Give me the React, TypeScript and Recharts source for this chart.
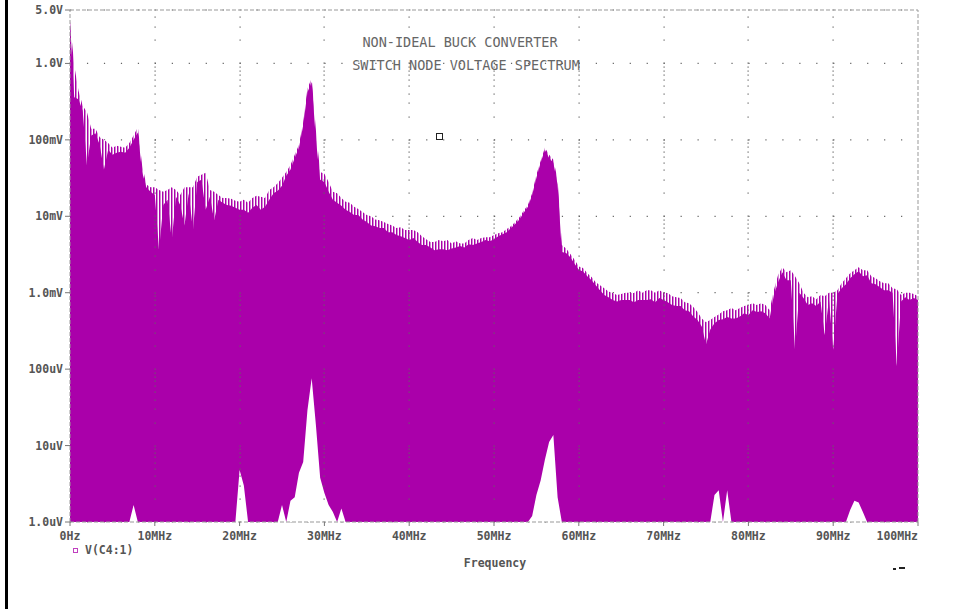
import {
  ComposedChart,
  Area,
  Scatter,
  XAxis,
  YAxis,
  CartesianGrid,
  ReferenceLine,
} from "recharts";

// spectrum sampled every 0.5 MHz, 0 .. 100 MHz (volts)
const STEP_MHZ = 0.5;

// upper edge of the harmonic comb
const peakV = [
  3.6, 0.94, 0.44, 0.28, 0.23, 0.14, 0.14, 0.108, 0.1, 0.091,
  0.079, 0.084, 0.081, 0.079, 0.091, 0.114, 0.146, 0.047, 0.026, 0.024,
  0.024, 0.022, 0.021, 0.022, 0.024, 0.022, 0.019, 0.024, 0.024, 0.024,
  0.033, 0.035, 0.037, 0.022, 0.021, 0.019, 0.0174, 0.0174, 0.0169, 0.016,
  0.0155, 0.0164, 0.015, 0.0174, 0.0185, 0.018, 0.0174, 0.022, 0.024, 0.027,
  0.032, 0.038, 0.047, 0.064, 0.086, 0.169, 0.47, 0.64, 0.133, 0.038,
  0.036, 0.028, 0.021, 0.02, 0.0174, 0.0155, 0.015, 0.0133, 0.0125, 0.0114,
  0.0104, 0.01, 0.0091, 0.0089, 0.0084, 0.0079, 0.0076, 0.007, 0.0072, 0.0066,
  0.0066, 0.0066, 0.0062, 0.0055, 0.005, 0.0046, 0.0046, 0.0049, 0.0047, 0.0049,
  0.0044, 0.0047, 0.0044, 0.0044, 0.0049, 0.0052, 0.0049, 0.0052, 0.0053, 0.0053,
  0.0057, 0.006, 0.0062, 0.0068, 0.0074, 0.0084, 0.0097, 0.0118, 0.0141, 0.02,
  0.035, 0.053, 0.079, 0.064, 0.055, 0.03, 0.0042, 0.0038, 0.0032, 0.0027,
  0.0022, 0.0021, 0.0018, 0.0016, 0.00137, 0.00125, 0.00114, 0.00104, 0.00099, 0.00093,
  0.00096, 0.001, 0.001, 0.00099, 0.00108, 0.001, 0.00108, 0.00108, 0.001, 0.00108,
  0.001, 0.00099, 0.0009, 0.00087, 0.00085, 0.00075, 0.00073, 0.00065, 0.00056, 0.00046,
  0.00041, 0.00044, 0.00048, 0.00052, 0.00057, 0.00059, 0.00063, 0.00059, 0.00063, 0.00067,
  0.00069, 0.00073, 0.00069, 0.00073, 0.00069, 0.00059, 0.00108, 0.0017, 0.00215, 0.00185,
  0.00197, 0.00164, 0.00133, 0.001, 0.00087, 0.0009, 0.00082, 0.00093, 0.0009, 0.001,
  0.001, 0.00108, 0.00133, 0.00155, 0.0018, 0.00197, 0.00215, 0.00197, 0.00197, 0.00164,
  0.00155, 0.00141, 0.00133, 0.00133, 0.00114, 0.00111, 0.00093, 0.001, 0.001, 0.00096,
  0.0009,
];

// solid body under the comb
const floorV = [
  3.6, 0.36, 0.34, 0.24, 0.047, 0.114, 0.122, 0.086, 0.041, 0.074,
  0.064, 0.068, 0.07, 0.068, 0.079, 0.1, 0.125, 0.038, 0.024, 0.021,
  0.019, 0.0036, 0.0141, 0.0164, 0.0049, 0.018, 0.0141, 0.0076, 0.02, 0.0066,
  0.028, 0.03, 0.0122, 0.018, 0.0089, 0.0164, 0.015, 0.0141, 0.0137, 0.0129,
  0.0122, 0.0122, 0.0111, 0.0129, 0.0141, 0.0122, 0.0133, 0.0164, 0.02, 0.0215,
  0.025, 0.034, 0.041, 0.058, 0.079, 0.155, 0.42, 0.57, 0.1, 0.03,
  0.028, 0.021, 0.0164, 0.015, 0.0137, 0.0122, 0.0114, 0.0104, 0.0104, 0.0091,
  0.0084, 0.0076, 0.0074, 0.007, 0.007, 0.0062, 0.0062, 0.0057, 0.0055, 0.0052,
  0.0049, 0.0052, 0.0046, 0.0042, 0.0042, 0.0039, 0.0036, 0.0037, 0.0037, 0.0036,
  0.0038, 0.0039, 0.0041, 0.0039, 0.0043, 0.0042, 0.0044, 0.0046, 0.0049, 0.0047,
  0.005, 0.0055, 0.0058, 0.0062, 0.007, 0.0079, 0.0091, 0.0111, 0.0133, 0.019,
  0.032, 0.05, 0.074, 0.058, 0.05, 0.026, 0.0034, 0.0033, 0.0029, 0.0024,
  0.002, 0.0019, 0.00164, 0.00146, 0.00125, 0.00108, 0.00093, 0.00087, 0.0008, 0.00077,
  0.0008, 0.0008, 0.0008, 0.00075, 0.0008, 0.0008, 0.0008, 0.00082, 0.00075, 0.00085,
  0.0008, 0.00075, 0.00069, 0.00067, 0.00067, 0.00059, 0.00057, 0.00049, 0.00044, 0.00036,
  0.00021, 0.00033, 0.0004, 0.00044, 0.00045, 0.00048, 0.00046, 0.00046, 0.00049, 0.00054,
  0.00051, 0.00059, 0.00056, 0.00057, 0.00054, 0.00046, 0.00093, 0.00137, 0.00185, 0.00146,
  0.00146, 0.00018, 0.001, 0.00085, 0.00069, 0.00073, 0.00067, 0.00077, 0.00028, 0.00082,
  0.00018, 0.00096, 0.00114, 0.00129, 0.00155, 0.00174, 0.00191, 0.00164, 0.00169, 0.00133,
  0.00129, 0.00118, 0.00108, 0.00108, 0.001, 0.00011, 0.00077, 0.00087, 0.0008, 0.00085,
  0.0008,
];

// empty bins near the noise floor: [MHz, volts]
const gapV: Array<[number, number]> = [
  [7.5, 1.67e-6], [20, 4.8e-6], [20.5, 3.0e-6], [25, 1.67e-6], [26, 1.9e-6],
  [26.5, 2.1e-6], [27, 4.4e-6], [27.5, 6.1e-6], [28, 2.9e-5], [28.5, 7.6e-5],
  [29, 1.85e-5], [29.5, 3.8e-6], [30, 2.4e-6], [30.5, 1.67e-6], [31, 1.35e-6],
  [32, 1.5e-6], [54.5, 1.2e-6], [55, 2.25e-6], [55.5, 3.5e-6], [56, 6.5e-6],
  [56.5, 1.11e-5], [57, 1.37e-5], [57.5, 2.1e-6], [76, 2.25e-6], [76.5, 2.6e-6],
  [77.5, 2.6e-6], [92, 1.44e-6], [92.5, 1.9e-6], [93, 1.8e-6], [93.5, 1.35e-6],
];

const Y_MIN = 1e-6;
const Y_MAX = 5;
const yTicks = [1e-6, 1e-5, 1e-4, 1e-3, 1e-2, 1e-1, 1, 5];
const yLabels = ["1.0uV", "10uV", "100uV", "1.0mV", "10mV", "100mV", "1.0V", "5.0V"];
const xTicks = [0, 10, 20, 30, 40, 50, 60, 70, 80, 90, 100];
const xLabels = ["0Hz", "10MHz", "20MHz", "30MHz", "40MHz", "50MHz", "60MHz", "70MHz", "80MHz", "90MHz", "100MHz"];

const PURPLE = "#AA00AA";
const PINK = "#D48AD4";
const AXIS_TEXT = "#555";
const GRID = "#666";
const MONO = "'DejaVu Sans Mono', 'Liberation Mono', monospace";

const gapMap = new Map(gapV.map(([f, v]) => [f, v]));
const data = peakV.map((p, i) => {
  const f = i * STEP_MHZ;
  return { f, peak: p, floor: floorV[i], gap: gapMap.get(f) ?? Y_MIN };
});

// dots on the vertical grid lines, at the log minor divisions
const gridDots: Array<{ f: number; v: number }> = [];
for (let f = 10; f < 100; f += 10) {
  for (let e = -6; e <= 0; e++) {
    for (let m = 1; m <= 9; m++) {
      const v = m * Math.pow(10, e);
      if (v < Y_MAX) gridDots.push({ f, v });
    }
  }
}

const Dot = (props: any) => (
  <rect
    x={Math.round(props.cx) - 0.5}
    y={Math.round(props.cy) - 0.5}
    width={1.2}
    height={1.2}
    fill={GRID}
  />
);

const XTick = (props: any) => {
  const { x, y, payload } = props;
  const i = xTicks.indexOf(payload.value);
  return (
    <text
      x={x}
      y={y}
      dy={12}
      textAnchor={payload.value === 100 ? "end" : "middle"}
      fill={AXIS_TEXT}
      fontSize={11.5}
      fontWeight="bold"
      fontFamily={MONO}
    >
      {xLabels[i]}
    </text>
  );
};

const YTick = (props: any) => {
  const { x, y, payload } = props;
  const i = yTicks.indexOf(payload.value);
  return (
    <text
      x={x}
      y={y}
      dy={4}
      textAnchor="end"
      fill={AXIS_TEXT}
      fontSize={11.5}
      fontWeight="bold"
      fontFamily={MONO}
    >
      {yLabels[i]}
    </text>
  );
};

export default function App() {
  return (
    <div style={{ position: "fixed", left: 0, top: 0, width: 953, height: 609, background: "#fff", overflow: "hidden" }}>
      <ComposedChart
        width={953}
        height={609}
        data={data}
        margin={{ top: 10, right: 35, bottom: 57, left: 8 }}
      >
        <defs>
          <pattern id="comb" width="3" height="8" patternUnits="userSpaceOnUse">
            <rect x="0" y="0" width="1" height="8" fill={PURPLE} />
            <rect x="1" y="0" width="1" height="8" fill={PINK} />
            <rect x="2" y="0" width="1" height="8" fill="#fff" />
          </pattern>
        </defs>
        <CartesianGrid vertical={false} stroke={GRID} strokeWidth={1.2} strokeDasharray="1.2 15.76" />
        <XAxis
          dataKey="f"
          type="number"
          domain={[0, 100]}
          ticks={xTicks}
          interval={0}
          axisLine={false}
          tickSize={4}
          tickLine={{ stroke: "#777" }}
          tick={<XTick />}
          height={30}
        />
        <YAxis
          type="number"
          scale="log"
          domain={[Y_MIN, Y_MAX]}
          allowDataOverflow
          ticks={yTicks}
          interval={0}
          axisLine={false}
          tickSize={5}
          tickLine={{ stroke: "#777" }}
          tick={<YTick />}
          width={62}
        />
        <ReferenceLine y={Y_MAX} stroke="#999" strokeDasharray="4 2" />
        <ReferenceLine y={Y_MIN} stroke="#999" strokeDasharray="4 2" />
        <ReferenceLine x={0} stroke="#999" strokeDasharray="4 2" />
        <ReferenceLine x={100} stroke="#999" strokeDasharray="4 2" />
        <Scatter data={gridDots} dataKey="v" shape={<Dot />} isAnimationActive={false} />
        <Area
          type="linear"
          dataKey="peak"
          baseValue={Y_MIN}
          fill="url(#comb)"
          fillOpacity={1}
          stroke="none"
          isAnimationActive={false}
        />
        <Area
          type="linear"
          dataKey="floor"
          baseValue={Y_MIN}
          fill={PURPLE}
          fillOpacity={1}
          stroke="none"
          isAnimationActive={false}
        />
        <Area
          type="linear"
          dataKey="gap"
          baseValue={Y_MIN}
          fill="#fff"
          fillOpacity={1}
          stroke="none"
          isAnimationActive={false}
        />
      </ComposedChart>

      {/* window frame edge */}
      <div style={{ position: "absolute", left: 5, top: 0, width: 3, height: 609, background: "#000" }} />

      {/* plot title */}
      <div style={{ position: "absolute", left: 260, width: 400, top: 34, textAlign: "center", fontFamily: MONO, fontSize: 13.5, color: "#666", lineHeight: "16px" }}>
        NON-IDEAL BUCK CONVERTER
      </div>
      <div style={{ position: "absolute", left: 266, width: 400, top: 57, textAlign: "center", fontFamily: MONO, fontSize: 13.5, color: "#666", lineHeight: "16px" }}>
        SWITCH NODE VOLTAGE SPECTRUM
      </div>

      {/* cursor marker */}
      <div style={{ position: "absolute", left: 436, top: 133, width: 5, height: 5, border: "1.5px solid #222" }} />

      {/* legend */}
      <div style={{ position: "absolute", left: 73, top: 548, width: 3, height: 3, border: "1px solid #C040C0" }} />
      <div style={{ position: "absolute", left: 85, top: 542, fontFamily: MONO, fontSize: 11.5, fontWeight: "bold", color: AXIS_TEXT, lineHeight: "16px" }}>
        V(C4:1)
      </div>

      {/* axis title */}
      <div style={{ position: "absolute", left: 395, width: 200, top: 555, textAlign: "center", fontFamily: MONO, fontSize: 11.5, fontWeight: "bold", color: AXIS_TEXT, lineHeight: "16px" }}>
        Frequency
      </div>

      {/* clipped text at the lower right */}
      <div style={{ position: "absolute", left: 893, top: 568, width: 3, height: 2, background: "#222" }} />
      <div style={{ position: "absolute", left: 899, top: 567, width: 6, height: 2, background: "#222" }} />
    </div>
  );
}
